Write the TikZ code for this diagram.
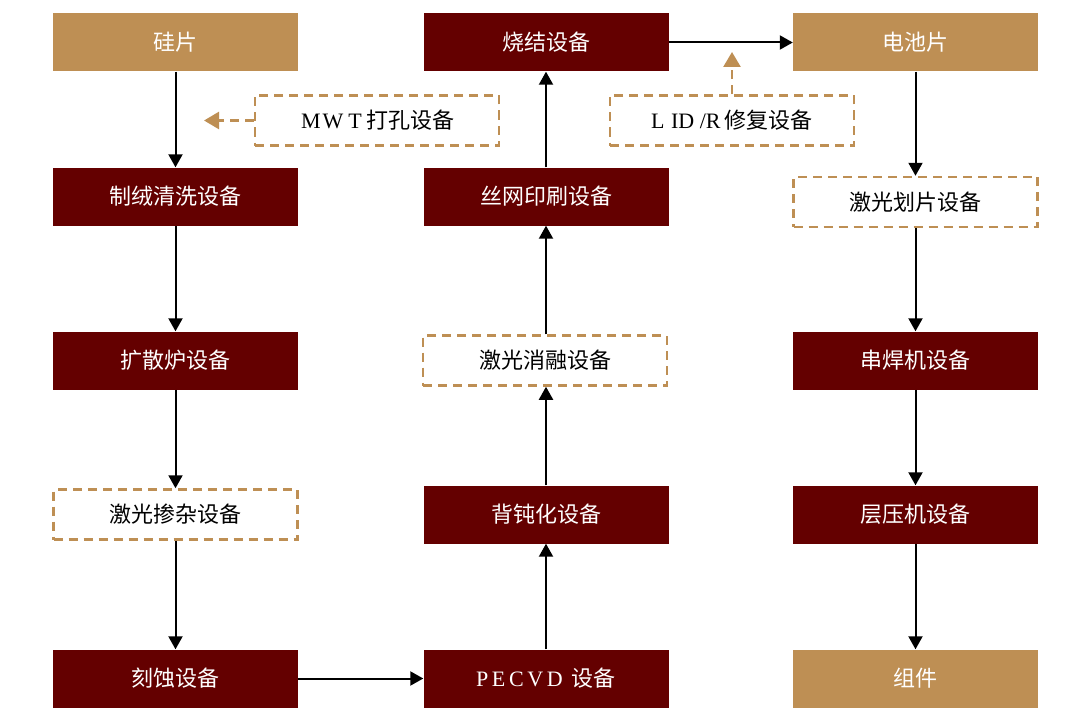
\documentclass[tikz,border=0pt]{standalone}
\usepackage{fontspec}
\setmainfont{Liberation Serif}
\newfontfamily\cjk{Noto Sans CJK SC}
\usetikzlibrary{arrows.meta}
\definecolor{dred}{RGB}{100,0,0}
\definecolor{goldtan}{RGB}{190,143,84}
\newcommand{\fwl}[1]{\makebox[1em]{#1}}
\begin{document}
\begin{tikzpicture}[x=1pt,y=-1pt,
  solidbox/.style={fill=dred, text=white, minimum width=245pt, minimum height=58pt, inner sep=0pt, font=\fontsize{22}{22}\selectfont\cjk},
  tanbox/.style={solidbox, fill=goldtan},
  dashbox/.style={draw=goldtan, line width=2.5pt, dash pattern=on 9pt off 6pt, minimum width=244pt, minimum height=50pt, inner sep=0pt, text=black, font=\fontsize{22}{22}\selectfont\cjk},
  flow/.style={line width=2pt, -{Triangle[length=13pt,width=14pt]}},
  dflow/.style={draw=goldtan, line width=2.5pt, dash pattern=on 9pt off 6pt, -{Triangle[length=15pt,width=17pt]}}
]
\useasboundingbox (0,0) rectangle (1080,725);
\fill[white] (0,0) rectangle (1080,725);

% column 1
\node[tanbox]   (si)   at (175.5,42.5)  {硅片};
\node[solidbox] (zr)   at (175.5,196.5) {制绒清洗设备};
\node[solidbox] (ksl)  at (175.5,360.5) {扩散炉设备};
\node[dashbox]  (cz)   at (175.5,514.5) {激光掺杂设备};
\node[solidbox] (ks)   at (175.5,678.5) {刻蚀设备};

% column 2
\node[solidbox] (pecvd) at (546,678.5) {\fontsize{22}{22}\selectfont\rmfamily P\,E\,C\,V\,D\, {\cjk 设备}};
\node[solidbox] (bdh)  at (546,514.5) {背钝化设备};
\node[dashbox]  (xr)   at (545,360.5) {激光消融设备};
\node[solidbox] (sw)   at (546,196.5) {丝网印刷设备};
\node[solidbox] (sj)   at (546,42.5)  {烧结设备};

% column 3
\node[tanbox]   (dc)   at (915.5,42.5)  {电池片};
\node[dashbox]  (hp)   at (915.5,202)   {激光划片设备};
\node[solidbox] (ch)   at (915.5,360.5) {串焊机设备};
\node[solidbox] (cy)   at (915.5,514.5) {层压机设备};
\node[tanbox]   (zj)   at (915.5,678.5) {组件};

% side boxes
\node[dashbox] (mwt) at (377,120.5) {{\rmfamily\fwl{M}\fwl{W}\fwl{T}}打孔设备};
\node[dashbox] (lid) at (732,120.5) {{\rmfamily L\hspace{0.3em}ID\hspace{0.25em}/R\hspace{0.2em}}修复设备};

\coordinate (mwttip) at (204,120.5);
\coordinate (lidtip) at (732,52);

% connectors
\draw[flow] (si) -- (zr);
\draw[flow] (zr) -- (ksl);
\draw[flow] (ksl) -- (cz);
\draw[flow] (cz) -- (ks);
\draw[flow] (ks) -- (pecvd);
\draw[flow] (pecvd) -- (bdh);
\draw[flow] (bdh) -- (bdh |- xr.south);
\draw[flow] (sw |- xr.north) -- (sw);
\draw[flow] (sw) -- (sj);
\draw[flow] (sj) -- (dc);
\draw[flow] (dc) -- (dc |- hp.north);
\draw[flow] (hp) -- (ch);
\draw[flow] (ch) -- (cy);
\draw[flow] (cy) -- (zj);

\draw[dflow] (mwt.west) -- (mwttip);
\draw[dflow] (lid.north) -- (lidtip);
\end{tikzpicture}
\end{document}
